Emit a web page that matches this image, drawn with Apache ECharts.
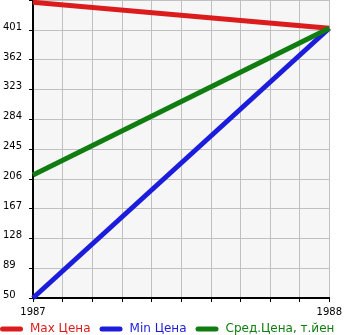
<!DOCTYPE html>
<html>
<head>
<meta charset="utf-8">
<script src="https://cdn.jsdelivr.net/npm/echarts@6/dist/echarts.min.js"></script>
<style>
  html, body { margin: 0; padding: 0; background: #fff; }
  #chart { width: 345px; height: 335px; }
</style>
</head>
<body>
<div id="chart"></div>
<script>
var years = [1987, 1988];
var maxPrice = [437, 403];
var minPrice = [50, 403];
var avgPrice = [211, 403];
var yTicks = [50, 89, 128, 167, 206, 245, 284, 323, 362, 401];

var names = ['Max Цена', 'Min Цена', 'Сред.Цена, т.йен'];
var colors = ['#dc1c1c', '#1c1cdc', '#0f7d0f'];

function pairs(vals) {
    return years.map(function (y, i) { return [y, vals[i]]; });
}

var myChart = echarts.init(document.getElementById('chart'));

var option = {
    animation: false,
    textStyle: { fontFamily: 'DejaVu Sans' },
    grid: {
        left: 31, right: 15, top: 0, bottom: 37,
        show: true, backgroundColor: '#f6f6f6', borderWidth: 0
    },
    legend: {
        left: 0, top: 323, padding: 0,
        itemWidth: 23, itemHeight: 5, itemGap: 9,
        icon: 'path://M2.5,0H20.5A2.5,2.5,0,0,1,20.5,5H2.5A2.5,2.5,0,0,1,2.5,0Z',
        data: names.map(function (n, i) {
            return { name: n, textStyle: { color: colors[i] } };
        }),
        textStyle: { fontSize: 12, padding: [0, 0, 0, 2] }
    },
    xAxis: {
        type: 'value',
        min: 1987, max: 1988, interval: 0.1,
        axisLine: { lineStyle: { color: '#000', width: 2 } },
        axisTick: { show: true, length: 4, lineStyle: { color: '#000' } },
        splitLine: { lineStyle: { color: '#c0c0c0' } },
        axisLabel: {
            color: '#000', fontSize: 10, margin: 9,
            formatter: function (v) {
                var r = Math.round(v);
                return Math.abs(v - r) < 1e-6 ? String(r) : '';
            }
        }
    },
    yAxis: {
        type: 'value',
        min: 50, max: 440, interval: 39,
        axisLine: { show: true, lineStyle: { color: '#000', width: 2 } },
        axisTick: { show: true, length: 4, lineStyle: { color: '#000' } },
        splitLine: { lineStyle: { color: '#c0c0c0' } },
        axisLabel: {
            color: '#000', fontSize: 10, margin: 30, align: 'left',
            verticalAlign: 'bottom', lineHeight: 5,
            formatter: function (v) {
                return yTicks.indexOf(Math.round(v)) >= 0 ? String(Math.round(v)) : '';
            }
        }
    },
    series: [maxPrice, minPrice, avgPrice].map(function (vals, i) {
        return {
            name: names[i],
            type: 'line',
            data: pairs(vals),
            showSymbol: false,
            clip: false,
            color: colors[i],
            lineStyle: { width: 5, color: colors[i] }
        };
    })
};

myChart.setOption(option);
</script>
</body>
</html>
